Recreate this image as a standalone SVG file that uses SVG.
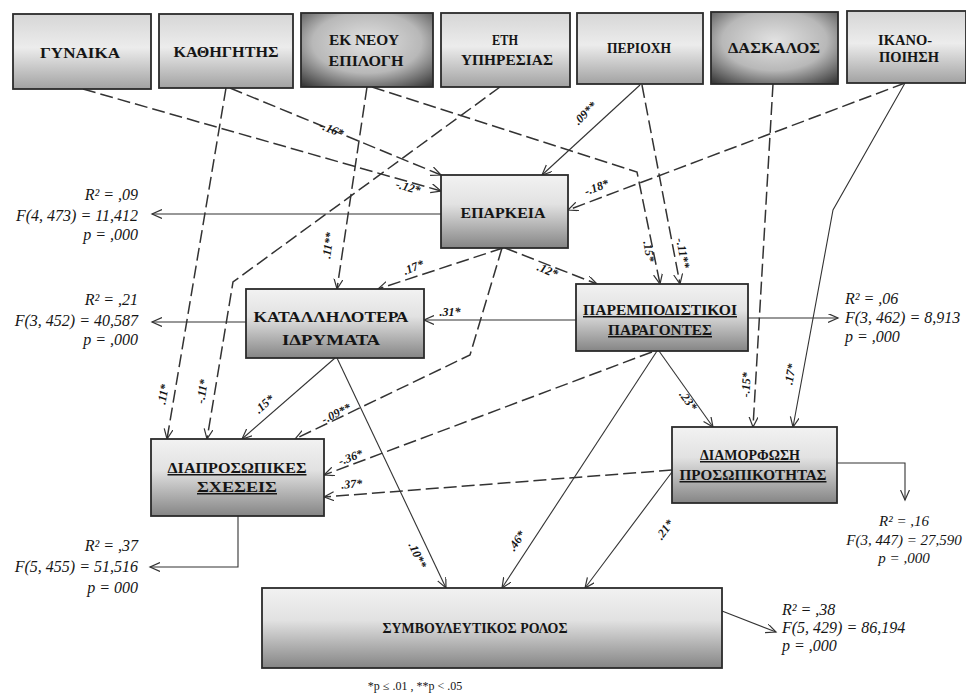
<svg xmlns="http://www.w3.org/2000/svg" width="966" height="695" viewBox="0 0 966 695">
<style>
.bx{stroke:#2b2b2b;stroke-width:1.8}
.t{font-family:"Liberation Serif","DejaVu Serif",serif;font-weight:bold;font-size:15px;text-anchor:middle;fill:#151515}
.u{text-decoration:underline}
.s{font-family:"Liberation Serif","DejaVu Serif",serif;font-style:italic;font-size:16px;fill:#151515}
.r{text-anchor:end}
.m{text-anchor:middle}
.lab{font-family:"Liberation Serif","DejaVu Serif",serif;font-style:italic;font-weight:bold;font-size:12px;fill:#151515;text-anchor:middle}
.c{fill:none;stroke:#333;stroke-width:1.1;marker-end:url(#ah)}
.d{stroke-dasharray:13 5;stroke-width:1.5}
.fn{font-family:"Liberation Serif","DejaVu Serif",serif;font-size:12px;fill:#151515;text-anchor:middle}
</style>
<defs>
<linearGradient id="gt" x1="0" y1="0" x2="0" y2="1">
<stop offset="0" stop-color="#d6d6d6"/><stop offset="0.45" stop-color="#ececec"/><stop offset="1" stop-color="#a2a2a2"/>
</linearGradient>
<radialGradient id="gd" cx="0.5" cy="0.4" r="0.75">
<stop offset="0" stop-color="#e2e2e2"/><stop offset="0.55" stop-color="#b8b8b8"/><stop offset="1" stop-color="#3a3a3a"/>
</radialGradient>
<linearGradient id="gm" x1="0" y1="0" x2="0" y2="1">
<stop offset="0" stop-color="#f2f2f2"/><stop offset="0.4" stop-color="#e2e2e2"/><stop offset="1" stop-color="#858585"/>
</linearGradient>
<marker id="ah" markerUnits="userSpaceOnUse" markerWidth="12" markerHeight="10" refX="10" refY="4.5" orient="auto">
<path d="M0,0 L10,4.5 L0,9" fill="none" stroke="#333" stroke-width="1.2"/>
</marker>
</defs>
<rect width="966" height="695" fill="#ffffff"/>

<g id="connectors">
<path class="c d" d="M83,89 L441,191"/>
<path class="c d" d="M230,88 L441,175"/>
<path class="c d" d="M226,88 L167,439"/>
<path class="c d" d="M367,87 L337,289"/>
<path class="c d" d="M372,87 L637,172 L660,284"/>
<path class="c d" d="M500,87 L233,282 L207,439"/>
<path class="c" d="M640,85 L542,175"/>
<path class="c d" d="M642,85 L680,284"/>
<path class="c d" d="M773,84 L753,427"/>
<path class="c d" d="M905,83 L568,210"/>
<path class="c" d="M905,83 L833,210 L793,427"/>
<path class="c" d="M441,214 L152,214"/>
<path class="c d" d="M503,248 L378,289"/>
<path class="c d" d="M505,248 L597,284"/>
<path class="c d" d="M502,248 L470,355 L295,439"/>
<path class="c" d="M246,322 L152,322"/>
<path class="c" d="M335,358 L242,439"/>
<path class="c" d="M337,358 L446,588"/>
<path class="c" d="M576,320 L424,320"/>
<path class="c" d="M748,318 L838,318"/>
<path class="c d" d="M652,352 L324,475"/>
<path class="c" d="M657,351 L502,588"/>
<path class="c" d="M659,351 L713,427"/>
<path class="c" d="M238,516 L238,567 L150,567"/>
<path class="c d" d="M672,470 L324,497"/>
<path class="c" d="M672,472 L585,588"/>
<path class="c" d="M837,463 L905,463 L905,500"/>
<path class="c" d="M722,611 L776,632"/>
</g>

<g id="edge-labels">
<text class="lab" transform="translate(330,133) rotate(22)">-.16*</text>
<text class="lab" transform="translate(407,191) rotate(16)">-.12*</text>
<text class="lab" transform="translate(588,116) rotate(-45)">.09**</text>
<text class="lab" transform="translate(598,191) rotate(-21)">-.18*</text>
<text class="lab" transform="translate(645,252) rotate(81)">.15*</text>
<text class="lab" transform="translate(679,254) rotate(79)">-.11**</text>
<text class="lab" transform="translate(332,246) rotate(-82)">.11**</text>
<text class="lab" transform="translate(167,395) rotate(-80)">.11*</text>
<text class="lab" transform="translate(206,392) rotate(-81)">-.11*</text>
<text class="lab" transform="translate(415,271) rotate(-22)">.17*</text>
<text class="lab" transform="translate(546,274) rotate(23)">.12*</text>
<text class="lab" transform="translate(450,316)">.31*</text>
<text class="lab" transform="translate(267,407) rotate(-41)">.15*</text>
<text class="lab" transform="translate(338,417) rotate(-26)">-.09**</text>
<text class="lab" transform="translate(352,461) rotate(-20)">-.36*</text>
<text class="lab" transform="translate(352,488) rotate(-4)">.37*</text>
<text class="lab" transform="translate(414,557) rotate(65)">.10**</text>
<text class="lab" transform="translate(685,403) rotate(54)">.23*</text>
<text class="lab" transform="translate(750,385) rotate(-87)">-.15*</text>
<text class="lab" transform="translate(794,375) rotate(-80)">.17*</text>
<text class="lab" transform="translate(520,543) rotate(-56)">.46*</text>
<text class="lab" transform="translate(668,532) rotate(-54)">.21*</text>
</g>

<g id="n-gynaika"><rect class="bx" x="13" y="14" width="138" height="75" fill="url(#gt)"/><text class="t" x="80" y="58" textLength="80" lengthAdjust="spacingAndGlyphs">ΓΥΝΑΙΚΑ</text></g>
<g id="n-kathigitis"><rect class="bx" x="159" y="14" width="134" height="74" fill="url(#gt)"/><text class="t" x="226" y="57" textLength="105" lengthAdjust="spacingAndGlyphs">ΚΑΘΗΓΗΤΗΣ</text></g>
<g id="n-ekneou"><rect class="bx" x="301" y="13" width="132" height="74" fill="url(#gd)"/><text class="t" x="364" y="45" textLength="70" lengthAdjust="spacingAndGlyphs">ΕΚ ΝΕΟΥ</text><text class="t" x="366" y="66" textLength="75" lengthAdjust="spacingAndGlyphs">ΕΠΙΛΟΓΗ</text></g>
<g id="n-eti"><rect class="bx" x="441" y="13" width="129" height="74" fill="url(#gt)"/><text class="t" x="505" y="45" textLength="26" lengthAdjust="spacingAndGlyphs">ΕΤΗ</text><text class="t" x="507" y="65" textLength="92" lengthAdjust="spacingAndGlyphs">ΥΠΗΡΕΣΙΑΣ</text></g>
<g id="n-periochi"><rect class="bx" x="577" y="13" width="126" height="71" fill="url(#gt)"/><text class="t" x="639" y="53" textLength="64" lengthAdjust="spacingAndGlyphs">ΠΕΡΙΟΧΗ</text></g>
<g id="n-daskalos"><rect class="bx" x="711" y="12" width="127" height="72" fill="url(#gd)"/><text class="t" x="774" y="53" textLength="92" lengthAdjust="spacingAndGlyphs">ΔΑΣΚΑΛΟΣ</text></g>
<g id="n-ikanopoiisi"><rect class="bx" x="847" y="11" width="119" height="72" fill="url(#gt)"/><text class="t" x="905" y="45" textLength="54" lengthAdjust="spacingAndGlyphs">ΙΚΑΝΟ-</text><text class="t" x="909" y="62" textLength="60" lengthAdjust="spacingAndGlyphs">ΠΟΙΗΣΗ</text></g>

<g id="n-eparkeia"><rect class="bx" x="441" y="175" width="127" height="73" fill="url(#gm)"/><text class="t" x="503" y="218" textLength="85" lengthAdjust="spacingAndGlyphs">ΕΠΑΡΚΕΙΑ</text></g>
<g id="n-katallilotera"><rect class="bx" x="246" y="289" width="178" height="69" fill="url(#gm)"/><text class="t" x="331" y="322" textLength="155" lengthAdjust="spacingAndGlyphs">ΚΑΤΑΛΛΗΛΟΤΕΡΑ</text><text class="t" x="331" y="345" textLength="98" lengthAdjust="spacingAndGlyphs">ΙΔΡΥΜΑΤΑ</text></g>
<g id="n-paremp"><rect class="bx" x="576" y="284" width="172" height="67" fill="url(#gm)"/><text class="t u" x="660" y="315" textLength="154" lengthAdjust="spacingAndGlyphs">ΠΑΡΕΜΠΟΔΙΣΤΙΚΟΙ</text><text class="t u" x="660" y="335" textLength="104" lengthAdjust="spacingAndGlyphs">ΠΑΡΑΓΟΝΤΕΣ</text></g>
<g id="n-diaprosopikes"><rect class="bx" x="151" y="439" width="173" height="77" fill="url(#gm)"/><text class="t u" x="237" y="473" textLength="139" lengthAdjust="spacingAndGlyphs">ΔΙΑΠΡΟΣΩΠΙΚΕΣ</text><text class="t u" x="237" y="492" textLength="80" lengthAdjust="spacingAndGlyphs">ΣΧΕΣΕΙΣ</text></g>
<g id="n-diamorfosi"><rect class="bx" x="672" y="427" width="165" height="76" fill="url(#gm)"/><text class="t u" x="750" y="460" textLength="100" lengthAdjust="spacingAndGlyphs">ΔΙΑΜΟΡΦΩΣΗ</text><text class="t u" x="753" y="480" textLength="147" lengthAdjust="spacingAndGlyphs">ΠΡΟΣΩΠΙΚΟΤΗΤΑΣ</text></g>
<g id="n-symvouleftikos"><rect class="bx" x="262" y="588" width="460" height="80" fill="url(#gm)"/><text class="t" x="475" y="633" textLength="185" lengthAdjust="spacingAndGlyphs">ΣΥΜΒΟΥΛΕΥΤΙΚΟΣ ΡΟΛΟΣ</text></g>

<g id="stats">
<text class="s r" x="138" y="200">R² = ,09</text>
<text class="s r" x="138" y="221">F(4, 473) = 11,412</text>
<text class="s r" x="138" y="240">p = ,000</text>
<text class="s r" x="138" y="305">R² = ,21</text>
<text class="s r" x="138" y="326">F(3, 452) = 40,587</text>
<text class="s r" x="138" y="345">p = ,000</text>
<text class="s" x="845" y="304">R² = ,06</text>
<text class="s" x="845" y="323">F(3, 462) = 8,913</text>
<text class="s" x="845" y="342">p = ,000</text>
<text class="s r" x="138" y="551">R² = ,37</text>
<text class="s r" x="138" y="572">F(5, 455) = 51,516</text>
<text class="s r" x="138" y="593">p = 000</text>
<text class="s m" x="904" y="526" style="font-size:15px">R² = ,16</text>
<text class="s m" x="904" y="545" style="font-size:15px">F(3, 447) = 27,590</text>
<text class="s m" x="904" y="563" style="font-size:15px">p = ,000</text>
<text class="s" x="782" y="615">R² = ,38</text>
<text class="s" x="782" y="633">F(5, 429) = 86,194</text>
<text class="s" x="782" y="651">p = ,000</text>
<text class="fn" x="415" y="690">*p ≤ .01 , **p &lt; .05</text>
</g>
</svg>
